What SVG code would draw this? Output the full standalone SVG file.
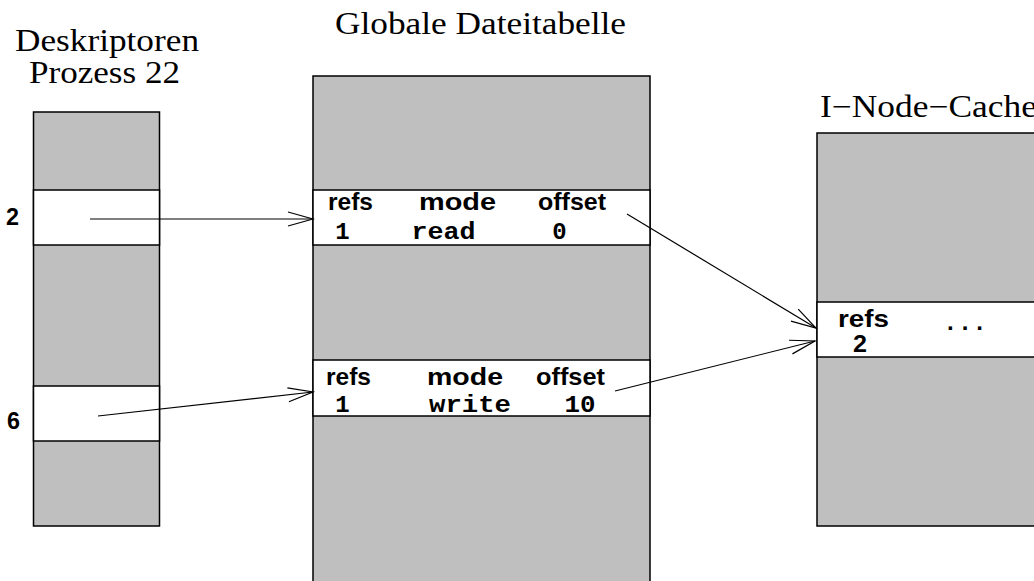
<svg xmlns="http://www.w3.org/2000/svg" width="1034" height="581" viewBox="0 0 1034 581">
<style>
.gray{fill:#bfbfbf;stroke:#000;stroke-width:1.5}
.white{fill:#fff;stroke:#000;stroke-width:1.5}
.title{font-family:"Liberation Serif","Times New Roman",serif;font-size:31px;fill:#000}
.lbl{font-family:"Liberation Sans",Arial,sans-serif;font-weight:bold;font-size:24px;fill:#000}
.mono{font-family:"Liberation Mono","Courier New",monospace;font-weight:bold;font-size:24px;fill:#000;text-anchor:middle}
.conn{stroke:#000;stroke-width:1.2;fill:none;marker-end:url(#vhead)}
</style>
<defs>
<marker id="vhead" markerUnits="userSpaceOnUse" viewBox="-27 -9 29 18" refX="0" refY="0" markerWidth="29" markerHeight="18" orient="auto">
<path d="M -25 -7 L 0 0 L -25 7" fill="none" stroke="#000" stroke-width="1.2"/>
</marker>
</defs>
<rect width="1034" height="581" fill="#fff"/>

<g id="deskriptoren">
<text class="title" x="15" y="51" textLength="184" lengthAdjust="spacingAndGlyphs">Deskriptoren</text>
<text class="title" x="29" y="83" textLength="151" lengthAdjust="spacingAndGlyphs">Prozess 22</text>
<rect class="gray" x="33.5" y="112" width="126" height="414"/>
<rect class="white" x="33.5" y="190" width="126" height="55"/>
<rect class="white" x="33.5" y="386" width="126" height="55"/>
<text class="lbl" x="6" y="225" font-size="22" textLength="13" lengthAdjust="spacingAndGlyphs">2</text>
<text class="lbl" x="7" y="429" font-size="22" textLength="13" lengthAdjust="spacingAndGlyphs">6</text>
</g>

<g id="dateitabelle">
<text class="title" x="335" y="34" textLength="291" lengthAdjust="spacingAndGlyphs">Globale Dateitabelle</text>
<rect class="gray" x="313" y="76" width="337" height="520" stroke-width="2"/>
<rect class="white" x="313" y="190" width="337" height="55" stroke-width="2"/>
<rect class="white" x="313" y="360" width="337" height="56"/>
<text class="lbl" x="328" y="210" textLength="45" lengthAdjust="spacingAndGlyphs">refs</text>
<text class="lbl" x="419" y="210" textLength="77" lengthAdjust="spacingAndGlyphs">mode</text>
<text class="lbl" x="538" y="210" textLength="68" lengthAdjust="spacingAndGlyphs">offset</text>
<text class="mono" x="342.5" y="239">1</text>
<text class="mono" x="443.5" y="239" textLength="64" lengthAdjust="spacingAndGlyphs">read</text>
<text class="mono" x="559.5" y="239">0</text>
<text class="lbl" x="326" y="385" textLength="45" lengthAdjust="spacingAndGlyphs">refs</text>
<text class="lbl" x="427" y="385" textLength="76" lengthAdjust="spacingAndGlyphs">mode</text>
<text class="lbl" x="536" y="385" textLength="69" lengthAdjust="spacingAndGlyphs">offset</text>
<text class="mono" x="342.5" y="412">1</text>
<text class="mono" x="470" y="412" textLength="82" lengthAdjust="spacingAndGlyphs">write</text>
<text class="mono" x="580" y="412" textLength="31" lengthAdjust="spacingAndGlyphs">10</text>
</g>

<g id="inode-cache">
<text class="title" x="820" y="117" textLength="217" lengthAdjust="spacingAndGlyphs">I−Node−Cache</text>
<rect class="gray" x="817" y="133" width="240" height="393" stroke-width="2"/>
<rect class="white" x="817" y="302" width="240" height="55"/>
<text class="lbl" x="838" y="327" font-size="25" textLength="51" lengthAdjust="spacingAndGlyphs">refs</text>
<text class="lbl" x="853" y="352" font-size="19" textLength="14" lengthAdjust="spacingAndGlyphs">2</text>
<text class="lbl" x="947" y="330" font-size="24" letter-spacing="8">...</text>
</g>

<g id="connectors">
<line class="conn" x1="90" y1="219" x2="313" y2="219"/>
<line class="conn" x1="98" y1="416" x2="313" y2="392"/>
<line class="conn" x1="627" y1="214" x2="816" y2="328"/>
<line class="conn" x1="615" y1="391" x2="815" y2="341"/>
</g>
</svg>
